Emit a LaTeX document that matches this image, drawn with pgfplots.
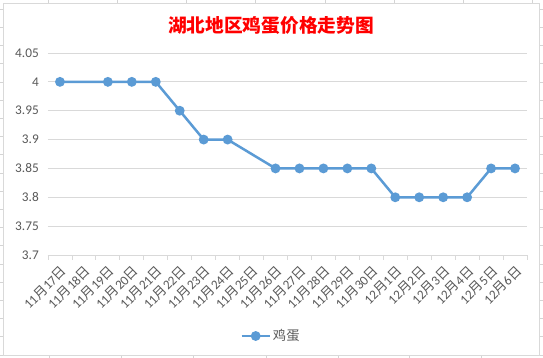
\documentclass[border=0pt]{standalone}
\usepackage{fontspec}
\usepackage{pgfplots}
\pgfplotsset{compat=1.18}
\usetikzlibrary{backgrounds,calc}
\setmainfont{Carlito}
\newfontfamily\cjk{Noto Sans CJK SC}
\definecolor{linec}{HTML}{5B9BD5}
\definecolor{gridc}{HTML}{D9D9D9}
\definecolor{txt}{HTML}{595959}
\definecolor{ss}{HTML}{D4D4D4}
\newcommand{\md}[2]{#1{\cjk 月}#2{\cjk 日}}
\begin{document}
\begin{tikzpicture}
\begin{axis}[
  scale only axis,
  width=479pt, height=202pt,
  xmin=-0.5, xmax=19.5, ymin=3.7, ymax=4.05,
  clip=false,
  axis lines*=left,
  y axis line style={draw=none},
  x axis line style={draw=gridc, line width=0.8pt},
  ytick={3.7,3.75,3.8,3.85,3.9,3.95,4,4.05},
  yticklabels={3.7,3.75,3.8,3.85,3.9,3.95,4,4.05},
  xtick={0,...,19},
  xticklabels={\md{11}{17},\md{11}{18},\md{11}{19},\md{11}{20},\md{11}{21},\md{11}{22},\md{11}{23},\md{11}{24},\md{11}{25},\md{11}{26},\md{11}{27},\md{11}{28},\md{11}{29},\md{11}{30},\md{12}{1},\md{12}{2},\md{12}{3},\md{12}{4},\md{12}{5},\md{12}{6}},
  minor xtick={-0.5,0.5,...,19.5},
  major tick length=0pt, minor tick length=5pt, tick align=outside,
  minor tick style={draw=gridc, line width=0.8pt},
  ymajorgrids, major grid style={draw=gridc, line width=0.8pt},
  tick label style={font=\fontsize{13.3}{16}\selectfont, text=txt},
  /pgf/number format/assume math mode=true,
  yticklabel style={anchor=east, inner sep=0pt, xshift=-9pt},
  xticklabel style={anchor=east, inner sep=0pt, xshift=4.2pt, yshift=-13.6pt, rotate=45},
  legend style={at={(0.4656,-0.401)}, anchor=center, draw=none, fill=none, font=\fontsize{13.3}{16}\selectfont, text=txt},
  legend image code/.code={\draw[mark repeat=2,mark phase=2,#1] plot coordinates {(0pt,0pt) (14pt,0pt) (28pt,0pt)};},
]
\coordinate (O) at (rel axis cs:0,0);
\addplot[color=linec, line width=2.5pt, mark=*, mark size=3.6pt, mark options={fill=linec, draw=linec}]
coordinates {(0,4) (2,4) (3,4) (4,4) (5,3.95) (6,3.9) (7,3.9) (9,3.85) (10,3.85) (11,3.85) (12,3.85) (13,3.85) (14,3.8) (15,3.8) (16,3.8) (17,3.8) (18,3.85) (19,3.85)};
\addlegendentry{\cjk 鸡蛋}
\end{axis}
\coordinate (P) at ($(O)+(-48pt,-103pt)$);
\begin{scope}[on background layer, shift={(P)}, x=1pt, y=1pt]
\fill[white] (0,0) rectangle (543,358);
\foreach \x in {48,117,186,255,325,394,463,532} \draw[ss,line width=0.8pt] (\x,355) -- (\x,358);
\foreach \x in {49,121,193,266,338,409,481} \draw[ss,line width=0.8pt] (\x,0) -- (\x,3);
\foreach \k in {0,...,19} {
  \pgfmathsetmacro{\yy}{3+18.2*\k}
  \draw[ss,line width=0.8pt] (0,\yy) -- (3,\yy);
  \draw[ss,line width=0.8pt] (539,\yy) -- (543,\yy);
}
\draw[fill=white, draw=gridc, line width=0.8pt] (3,3) rectangle (539,355);
\end{scope}
\begin{scope}[shift={(P)}, x=1pt, y=1pt]
\node[text=red, font=\fontsize{18.7}{22}\selectfont] at (271,333) {\cjk\bfseries 湖北地区鸡蛋价格走势图};
\end{scope}
\pgfresetboundingbox
\path[use as bounding box] (P) rectangle ($(P)+(543pt,358pt)$);
\end{tikzpicture}
\end{document}
